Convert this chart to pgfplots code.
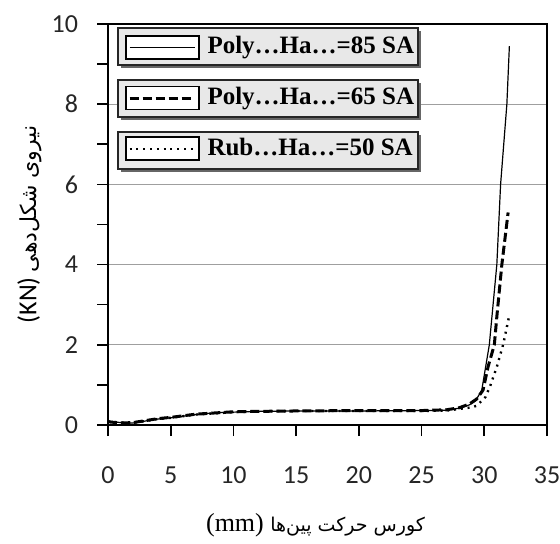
\documentclass[border=0pt]{standalone}
\usepackage{fontspec}
\usepackage{pgfplots}
\pgfplotsset{compat=1.18}
\TeXXeTstate=1
\setmainfont{Liberation Serif}
\newfontfamily\carlito{Carlito}
\newfontfamily\persian[Script=Arabic]{DejaVu Sans}

% shared low-force part of all three curves
\pgfplotstableread{
x y
0 0.10
1 0.06
2 0.05
3 0.10
4 0.15
5 0.18
6 0.22
7 0.26
8 0.29
9 0.31
10 0.32
12 0.34
15 0.35
20 0.35
25 0.36
27 0.37
28 0.42
28.8 0.50
29.3 0.60
29.8 0.87
30.4 2.00
31.0 4.00
31.3 6.00
31.8 8.00
32.0 9.45
}\hardA
\pgfplotstableread{
x y
0 0.08
1 0.05
2 0.06
3 0.11
4 0.16
5 0.19
6 0.23
7 0.27
8 0.29
9 0.31
10 0.33
12 0.34
15 0.35
20 0.36
25 0.36
27 0.38
28 0.43
28.8 0.52
29.4 0.65
29.9 0.87
30.3 1.45
30.8 2.00
31.0 2.70
31.4 4.00
31.9 5.30
}\hardB
\pgfplotstableread{
x y
0 0.09
1 0.06
2 0.06
3 0.10
4 0.15
5 0.18
6 0.22
7 0.26
8 0.28
9 0.30
10 0.32
12 0.34
15 0.35
20 0.35
25 0.35
27 0.36
28 0.40
29.0 0.44
29.4 0.48
30.1 0.70
30.5 1.00
31.0 1.45
31.5 2.00
32.0 2.74
}\hardC

\tikzset{legbox/.style={black!85, line width=0.9pt, fill=gray!18},
         legshadow/.style={black!60, xshift=1.5pt, yshift=-1.5pt}}

\begin{document}
\begin{tikzpicture}
\begin{axis}[
    scale only axis,
    width=219.5pt, height=200.5pt,
    xmin=0, xmax=35, ymin=0, ymax=10,
    xtick={0,5,...,35},
    ytick={0,2,...,10},
    minor ytick={1,3,...,9},
    tick align=outside,
    major tick length=5.5pt, minor tick length=5.5pt,
    xtick pos=bottom, ytick pos=left,
    ymajorgrids,
    grid style={gray!75, line width=0.6pt},
    axis line style={line width=0.8pt},
    every tick/.style={black, line width=0.8pt},
    /pgf/number format/assume math mode=true,
    tick label style={font=\carlito\fontsize{13}{15}\selectfont, text=black!85},
    xticklabel style={yshift=-12pt},
    yticklabel style={xshift=-6pt},
    xlabel={\fontsize{13}{15}\selectfont(mm) {\persian\fontsize{9.5}{13}\selectfont\beginR کورس حرکت پین‌ها\endR}},
    ylabel={{\carlito\fontsize{13}{15}\selectfont(KN)} {\persian\fontsize{11}{13}\selectfont\beginR نیروی شکل‌دهی\endR}},
    xlabel style={yshift=-8pt, xshift=-6pt},
    ylabel style={yshift=-2pt},
    legend style={at={(axis cs:1.3,9.74)}, anchor=north west, draw=none, fill=none,
        inner sep=0pt, row sep=13pt, column sep=4pt,
        font=\bfseries\fontsize{12.5}{14}\selectfont,
        nodes={inner sep=0pt, text height=9pt, text depth=2.5pt}},
    legend cell align=left,
    legend image code/.code={
        \draw[black, solid, line width=0.9pt, fill=white] (0pt,-5.75pt) rectangle (36.5pt,5.75pt);
        \draw[#1] (2pt,0pt) -- (34.5pt,0pt);
    },
]
\addplot[black, line width=0.6pt] table {\hardA};
\addlegendentry{Poly…Ha…=85 SA}
\addplot[black, line width=1.5pt, dash pattern=on 4.5pt off 2pt] table {\hardB};
\addlegendentry{Poly…Ha…=65 SA}
\addplot[black, line width=1.2pt, dash pattern=on 1pt off 2.4pt] table {\hardC};
\addlegendentry{Rub…Ha…=50 SA}
% the three grey legend boxes with their shadows
\fill[legshadow] (axis cs:0.8,9.90) rectangle (axis cs:24.7,8.98);
\draw[legbox] (axis cs:0.8,9.90) rectangle (axis cs:24.7,8.98);
\fill[legshadow] (axis cs:0.8,8.60) rectangle (axis cs:24.7,7.68);
\draw[legbox] (axis cs:0.8,8.60) rectangle (axis cs:24.7,7.68);
\fill[legshadow] (axis cs:0.8,7.31) rectangle (axis cs:24.7,6.38);
\draw[legbox] (axis cs:0.8,7.31) rectangle (axis cs:24.7,6.38);
\end{axis}
\pgfresetboundingbox
\path (-54pt,-59.5pt) rectangle (226pt,212.5pt);
\end{tikzpicture}
\end{document}
